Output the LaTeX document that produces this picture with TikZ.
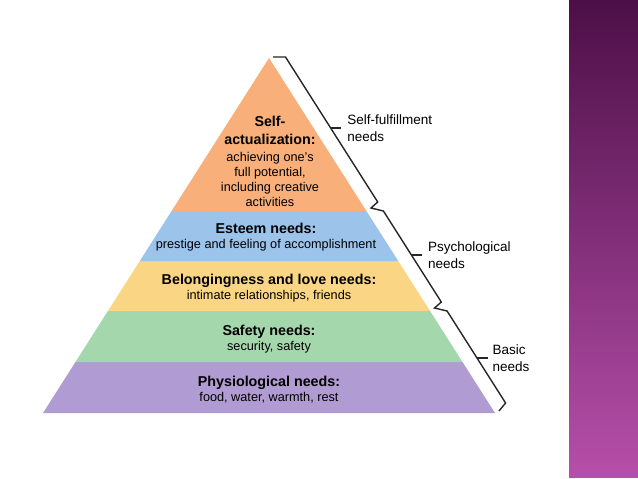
\documentclass[tikz,border=0pt]{standalone}
\usepackage{fontspec}
\setmainfont{Liberation Sans}
\usepackage{tikz}
\usetikzlibrary{positioning}
\definecolor{selfcol}{RGB}{249,175,121}
\definecolor{esteemcol}{RGB}{156,195,234}
\definecolor{lovecol}{RGB}{250,214,132}
\definecolor{safecol}{RGB}{164,215,172}
\definecolor{physcol}{RGB}{176,155,210}
\definecolor{bandtop}{RGB}{77,15,71}
\definecolor{bandbot}{RGB}{182,79,170}
\tikzset{
	tier/.style={align=center, inner sep=0pt, font=\fontsize{12.7}{15}\selectfont},
	needs/.style={align=left, inner sep=0pt, font=\fontsize{13.5}{17.5}\selectfont},
	brace/.style={line width=1.4pt, draw=black!85}
}
\newcommand{\tiername}[1]{{\fontsize{14.3}{17}\selectfont\bfseries #1}}

\begin{document}
\begin{tikzpicture}[x=1pt,y=-1pt]
	\useasboundingbox (0,0) rectangle (638,479);
	%
	\fill[physcol] (43,413) -- (495,413) -- (462.5,362) -- (75.5,362) -- cycle;
	\fill[safecol] (75.5,362) -- (462.5,362) -- (430.1,311) -- (107.9,311) -- cycle;
	\fill[lovecol] (107.9,311) -- (430.1,311) -- (398.2,261) -- (139.8,261) -- cycle;
	\fill[esteemcol] (139.8,261) -- (398.2,261) -- (366.4,211) -- (171.6,211) -- cycle;
	\fill[selfcol] (171.6,211) -- (366.4,211) -- (269,58) -- cycle;
	%
	\node[tier] (selfact) at (270,161.5) {\tiername{Self-}\\[3pt]\tiername{actualization:}\\[2pt]
		achieving one’s\\full potential,\\including creative\\activities};
	\node[tier] (esteem) at (266,237) {\tiername{Esteem needs:}\\prestige and feeling of accomplishment};
	\node[tier] (belong) at (269,288.5) {\tiername{Belongingness and love needs:}\\intimate relationships, friends};
	\node[tier] (safety) at (269,339) {\tiername{Safety needs:}\\security, safety};
	\node[tier] (physio) at (269,389.5) {\tiername{Physiological needs:}\\food, water, warmth, rest};
	%
	\draw[brace] (273,57) -- (285.5,57) -- (377.7,202) -- (371,208) -- (383.4,211)
		-- (441.3,302) -- (434.5,308) -- (447.1,311) -- (505.6,403) -- (499,411);
	%
	\coordinate (fulfiltick) at (330.6,128);
	\coordinate (psychtick) at (411.4,255);
	\coordinate (basictick) at (477,358);
	\draw[brace] (fulfiltick) -- ++(10.5,0) coordinate (fulfilend);
	\draw[brace] (psychtick) -- ++(10.5,0) coordinate (psychend);
	\draw[brace] (basictick) -- ++(10.5,0) coordinate (basicend);
	\node[needs, right=6pt of fulfilend] (fulfil) {Self-fulfillment\\needs};
	\node[needs, right=6pt of psychend] (psych) {Psychological\\needs};
	\node[needs, right=5pt of basicend] (basic) {Basic\\needs};
	%
	\shade[top color=bandtop, bottom color=bandbot] (569,0) rectangle (638,477);
\end{tikzpicture}
\end{document}
